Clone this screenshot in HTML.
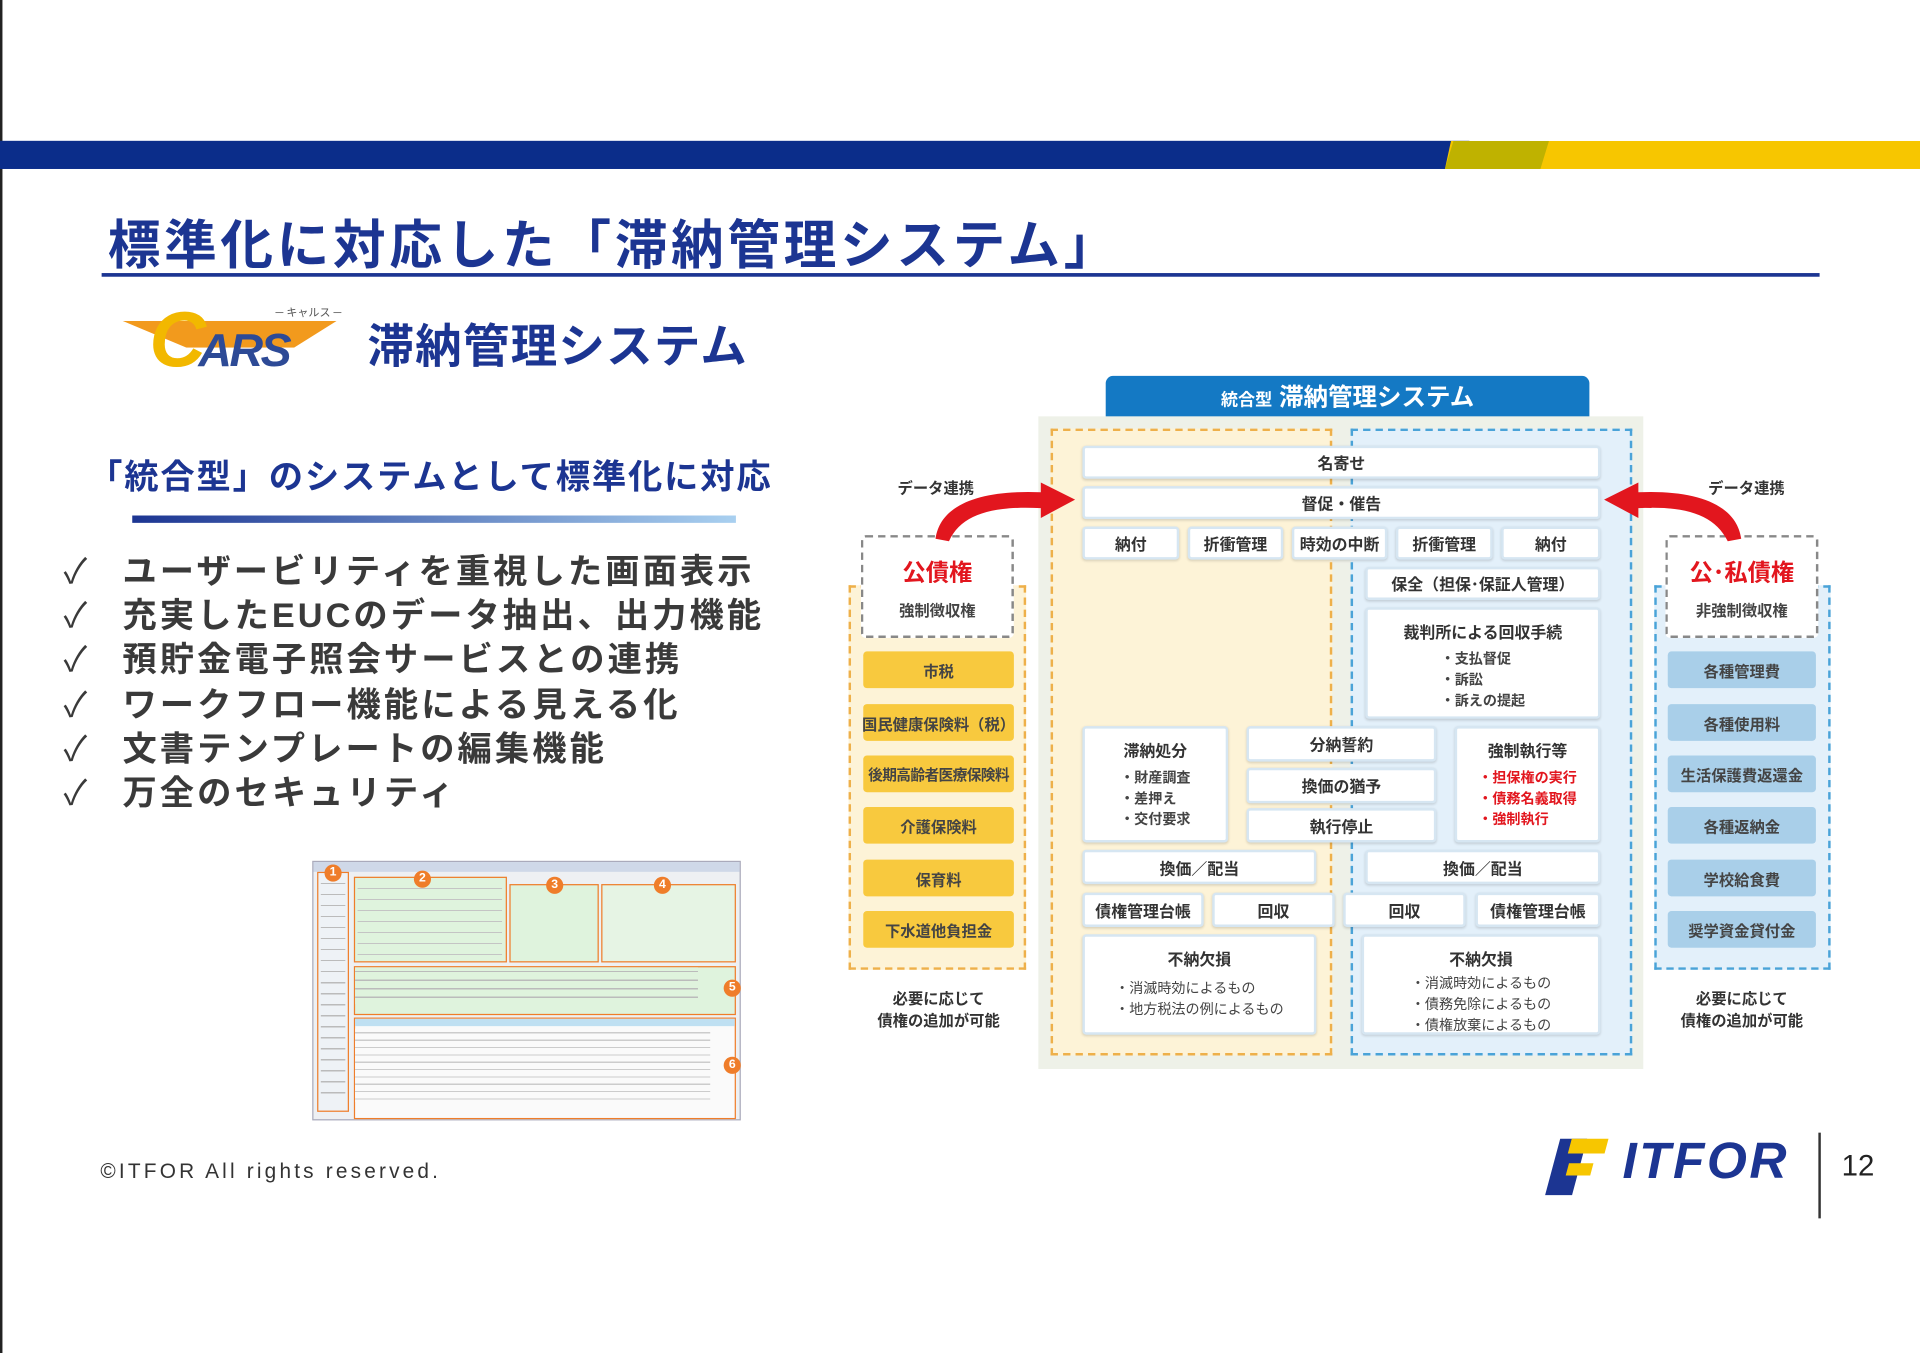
<!DOCTYPE html>
<html><head><meta charset="utf-8"><style>
*{margin:0;padding:0;box-sizing:border-box}
html,body{width:1920px;height:1353px;overflow:hidden;background:#fff}
#w{position:absolute;left:0;top:0;width:1568px;height:1105px;transform:scale(1.22449);transform-origin:0 0;font-family:"Liberation Sans","Noto Sans CJK JP",sans-serif}
.a{position:absolute}
.b{position:absolute;background:#fff;border:2px solid #d6e6f2;border-radius:3px;box-shadow:0 1px 2px rgba(0,0,0,.15);font-size:13px;font-weight:bold;color:#333;display:flex;align-items:center;justify-content:center;text-align:center}
.y{position:absolute;left:705px;width:123px;height:30px;background:#f8c93e;border-radius:3px;font-size:12.5px;font-weight:bold;color:#444;display:flex;align-items:center;justify-content:center;white-space:nowrap}
.l{position:absolute;left:1362px;width:121px;height:30px;background:#a9cfe9;border-radius:3px;font-size:12.5px;font-weight:bold;color:#444;display:flex;align-items:center;justify-content:center;white-space:nowrap}
.ck{position:absolute;left:52px;font-size:28px;font-weight:bold;color:#3a3a3a;white-space:nowrap;letter-spacing:2.5px}
.ck span{display:inline-block;width:48px;font-weight:normal;letter-spacing:0}
.s{font-size:11.5px;font-weight:bold;color:#444;line-height:17px;text-align:left}
.n{position:absolute;width:14px;height:14px;border-radius:50%;background:#ef7d2a;color:#fff;font-size:10px;font-weight:bold;text-align:center;line-height:14px}
</style></head><body><div id="w">
<div class="a" style="left:0;top:0;width:2px;height:1105px;background:#222"></div>
<div class="a" style="left:0;top:115px;width:1200px;height:23px;background:#0b2d8a"></div>
<div class="a" style="left:1180px;top:115px;width:388px;height:23px;background:#f7c600;clip-path:polygon(0 100%,5px 0,100% 0,100% 100%)"></div>
<div class="a" style="left:1180px;top:115px;width:85px;height:23px;background:#bfb200;clip-path:polygon(0 100%,7px 0,85px 0,78px 100%)"></div>
<div class="a" style="left:88px;top:166px;font-size:43px;font-weight:bold;color:#1c3592;white-space:nowrap;letter-spacing:3px">標準化に対応した「滞納管理システム」</div>
<div class="a" style="left:83px;top:223px;width:1403px;height:3px;background:#1c3592"></div>
<!-- CARS logo -->
<div class="a" style="left:100px;top:262px;width:175px;height:22px;background:#f29a1d;clip-path:polygon(0 0,100% 0,80% 100%,30% 100%)"></div>
<div class="a" style="left:122px;top:245px;font-size:64px;font-weight:bold;font-style:italic;color:#f2b800;font-family:'Liberation Sans',sans-serif;line-height:64px">C</div>
<div class="a" style="left:162px;top:268px;font-size:38px;font-weight:bold;font-style:italic;color:#2d4a96;line-height:38px;letter-spacing:-2px">ARS</div>
<div class="a" style="left:225px;top:248px;font-size:9px;color:#555">─ キャルス ─</div>
<div class="a" style="left:300px;top:252px;font-size:38px;font-weight:bold;color:#1c3592;white-space:nowrap;letter-spacing:1px">滞納管理システム</div>
<div class="a" style="left:72px;top:368px;font-size:28px;font-weight:bold;color:#1c3592;white-space:nowrap;letter-spacing:1.5px">「統合型」のシステムとして標準化に対応</div>
<div class="a" style="left:108px;top:421px;width:493px;height:6px;background:linear-gradient(90deg,#1c3592,#a9d0f0)"></div>
<div class="ck" style="top:445px"><span>✓</span>ユーザービリティを重視した画面表示</div>
<div class="ck" style="top:481px"><span>✓</span>充実したEUCのデータ抽出、出力機能</div>
<div class="ck" style="top:517px"><span>✓</span>預貯金電子照会サービスとの連携</div>
<div class="ck" style="top:554px"><span>✓</span>ワークフロー機能による見える化</div>
<div class="ck" style="top:590px"><span>✓</span>文書テンプレートの編集機能</div>
<div class="ck" style="top:626px"><span>✓</span>万全のセキュリティ</div>
<!-- screenshot -->
<div class="a" style="left:255px;top:703px;width:350px;height:212px;background:#eef0f3;border:1px solid #aab"></div>
<div class="a" style="left:256px;top:704px;width:348px;height:8px;background:#cfd8e8"></div>
<div class="a" style="left:259px;top:712px;width:26px;height:196px;border:1.5px solid #ef7d2a;background:#eef2f6"></div>
<div class="a" style="left:289px;top:716px;width:125px;height:70px;border:1.5px solid #ef7d2a;background:#dff3dd"></div>
<div class="a" style="left:416px;top:722px;width:73px;height:64px;border:1.5px solid #ef7d2a;background:#dff3dd"></div>
<div class="a" style="left:491px;top:722px;width:110px;height:64px;border:1.5px solid #ef7d2a;background:#e6f4e4"></div>
<div class="a" style="left:289px;top:789px;width:312px;height:40px;border:1.5px solid #ef7d2a;background:#dff3dd"></div>
<div class="a" style="left:289px;top:831px;width:312px;height:83px;border:1.5px solid #ef7d2a;background:#fafafa"></div>
<div class="a" style="left:290px;top:832px;width:310px;height:6px;background:#bfe0f2"></div>
<div class="a" style="left:290px;top:840px;width:290px;height:60px;background:repeating-linear-gradient(#fafafa 0 3px,#ccc 3px 4px,#fafafa 4px 6px)"></div>
<div class="a" style="left:290px;top:790px;width:280px;height:30px;background:repeating-linear-gradient(#dff3dd 0 3px,#bbb 3px 4px,#dff3dd 4px 7px)"></div>
<div class="a" style="left:292px;top:720px;width:118px;height:60px;background:repeating-linear-gradient(#dff3dd 0 5px,#c4c4c4 5px 6px,#dff3dd 6px 9px)"></div>
<div class="a" style="left:262px;top:716px;width:20px;height:180px;background:repeating-linear-gradient(#eef2f6 0 5px,#bbb 5px 6px,#eef2f6 6px 9px)"></div>
<div class="n" style="left:265px;top:706px">1</div><div class="n" style="left:338px;top:711px">2</div><div class="n" style="left:446px;top:716px">3</div><div class="n" style="left:534px;top:716px">4</div><div class="n" style="left:591px;top:800px">5</div><div class="n" style="left:591px;top:863px">6</div>
<div class="a" style="left:82px;top:947px;font-size:17px;color:#333;letter-spacing:2.6px;white-space:nowrap">©ITFOR All rights reserved.</div>
<!-- ITFOR logo -->
<div class="a" style="left:1268px;top:930px;width:22px;height:46px;background:#1c3592;transform:skewX(-15deg)"></div>
<div class="a" style="left:1282px;top:930px;width:30px;height:12px;background:#f7c600;transform:skewX(-15deg)"></div>
<div class="a" style="left:1280px;top:950px;width:20px;height:10px;background:#f7c600;transform:skewX(-15deg)"></div>
<div class="a" style="left:1325px;top:924px;font-size:42px;font-weight:bold;font-style:italic;color:#1c3592;letter-spacing:2px">ITFOR</div>
<div class="a" style="left:1485px;top:925px;width:2px;height:70px;background:#333"></div>
<div class="a" style="left:1504px;top:939px;font-size:24px;color:#222">12</div>
<!-- diagram -->
<div class="a" style="left:903px;top:307px;width:395px;height:36px;background:#1479c4;border-radius:6px 6px 0 0;color:#fff;font-weight:bold;font-size:20px;text-align:center;line-height:36px"><span style="font-size:14px">統合型</span> 滞納管理システム</div>
<div class="a" style="left:848px;top:340px;width:494px;height:533px;background:#eef1e8"></div>
<div class="a" style="left:858px;top:350px;width:230px;height:512px;background:#fdf3d7;border:2px dashed #eeb04a"></div>
<div class="a" style="left:1103px;top:350px;width:230px;height:512px;background:#e3f0fa;border:2px dashed #4aa3d8"></div>
<div class="b" style="left:884px;top:364px;width:423px;height:27px">名寄せ</div>
<div class="b" style="left:884px;top:397px;width:423px;height:27px">督促・催告</div>
<div class="b" style="left:884px;top:430px;width:79px;height:27px">納付</div>
<div class="b" style="left:970px;top:430px;width:78px;height:27px">折衝管理</div>
<div class="b" style="left:1055px;top:430px;width:78px;height:27px">時効の中断</div>
<div class="b" style="left:1140px;top:430px;width:79px;height:27px">折衝管理</div>
<div class="b" style="left:1226px;top:430px;width:81px;height:27px">納付</div>
<div class="b" style="left:1115px;top:463px;width:192px;height:27px">保全（担保･保証人管理）</div>
<div class="b" style="left:1115px;top:496px;width:192px;height:91px;flex-direction:column;justify-content:flex-start;padding-top:8px">裁判所による回収手続<div class="s" style="margin-top:6px">・支払督促<br>・訴訟<br>・訴えの提起</div></div>
<div class="b" style="left:884px;top:593px;width:119px;height:95px;flex-direction:column;justify-content:flex-start;padding-top:8px">滞納処分<div class="s" style="margin-top:6px">・財産調査<br>・差押え<br>・交付要求</div></div>
<div class="b" style="left:1018px;top:593px;width:155px;height:29px">分納誓約</div>
<div class="b" style="left:1018px;top:627px;width:155px;height:29px">換価の猶予</div>
<div class="b" style="left:1018px;top:660px;width:155px;height:28px">執行停止</div>
<div class="b" style="left:1188px;top:593px;width:119px;height:95px;flex-direction:column;justify-content:flex-start;padding-top:8px">強制執行等<div class="s" style="margin-top:6px;color:#e2161e">・担保権の実行<br>・債務名義取得<br>・強制執行</div></div>
<div class="b" style="left:884px;top:694px;width:191px;height:28px">換価／配当</div>
<div class="b" style="left:1115px;top:694px;width:192px;height:28px">換価／配当</div>
<div class="b" style="left:884px;top:729px;width:99px;height:28px">債権管理台帳</div>
<div class="b" style="left:990px;top:729px;width:100px;height:28px">回収</div>
<div class="b" style="left:1097px;top:729px;width:100px;height:28px">回収</div>
<div class="b" style="left:1205px;top:729px;width:102px;height:28px">債権管理台帳</div>
<div class="b" style="left:884px;top:763px;width:191px;height:82px;flex-direction:column;justify-content:flex-start;padding-top:8px">不納欠損<div class="s" style="margin-top:8px;font-weight:normal">・消滅時効によるもの<br>・地方税法の例によるもの</div></div>
<div class="b" style="left:1112px;top:763px;width:195px;height:82px;flex-direction:column;justify-content:flex-start;padding-top:8px">不納欠損<div class="s" style="margin-top:4px;font-weight:normal">・消滅時効によるもの<br>・債務免除によるもの<br>・債権放棄によるもの</div></div>
<!-- left side -->
<div class="a" style="left:693px;top:478px;width:145px;height:314px;background:#fdf3d7;border:2px dashed #eeb04a"></div>
<div class="a" style="left:703px;top:437px;width:125px;height:84px;background:#fff;border:2px dashed #888;border-radius:4px;text-align:center"><div style="color:#e2161e;font-size:19px;font-weight:bold;margin-top:14px">公債権</div><div style="font-size:12.5px;font-weight:bold;color:#444;margin-top:8px">強制徴収権</div></div>
<div class="y" style="top:532px">市税</div><div class="y" style="top:575px">国民健康保険料（税）</div><div class="y" style="top:617px;font-size:12px;letter-spacing:-.5px">後期高齢者医療保険料</div><div class="y" style="top:659px">介護保険料</div><div class="y" style="top:702px">保育料</div><div class="y" style="top:744px">下水道他負担金</div>
<div class="a" style="left:705px;top:807px;width:123px;text-align:center;font-size:12.5px;font-weight:bold;color:#333;line-height:18px">必要に応じて<br>債権の追加が可能</div>
<div class="a" style="left:733px;top:388px;font-size:12.5px;font-weight:bold;color:#333">データ連携</div>
<!-- right side -->
<div class="a" style="left:1351px;top:478px;width:144px;height:314px;background:#e3f0fa;border:2px dashed #4aa3d8"></div>
<div class="a" style="left:1360px;top:437px;width:125px;height:84px;background:#fff;border:2px dashed #888;border-radius:4px;text-align:center"><div style="color:#e2161e;font-size:19px;font-weight:bold;margin-top:14px">公･私債権</div><div style="font-size:12.5px;font-weight:bold;color:#444;margin-top:8px">非強制徴収権</div></div>
<div class="l" style="top:532px">各種管理費</div><div class="l" style="top:575px">各種使用料</div><div class="l" style="top:617px">生活保護費返還金</div><div class="l" style="top:659px">各種返納金</div><div class="l" style="top:702px">学校給食費</div><div class="l" style="top:744px">奨学資金貸付金</div>
<div class="a" style="left:1362px;top:807px;width:121px;text-align:center;font-size:12.5px;font-weight:bold;color:#333;line-height:18px">必要に応じて<br>債権の追加が可能</div>
<div class="a" style="left:1395px;top:388px;font-size:12.5px;font-weight:bold;color:#333">データ連携</div>
<!-- arrows -->
<svg class="a" style="left:0;top:0" width="1568" height="1105">
<path d="M764,440 C768,412 800,400 850,402 L850,394 L878,408 L850,423 L850,415 C810,413 785,420 775,442 Z" fill="#e2161e"/>
<path d="M1422,440 C1418,412 1386,400 1338,402 L1338,394 L1310,408 L1338,423 L1338,415 C1376,413 1400,420 1411,442 Z" fill="#e2161e"/>
</svg>
</div></body></html>
